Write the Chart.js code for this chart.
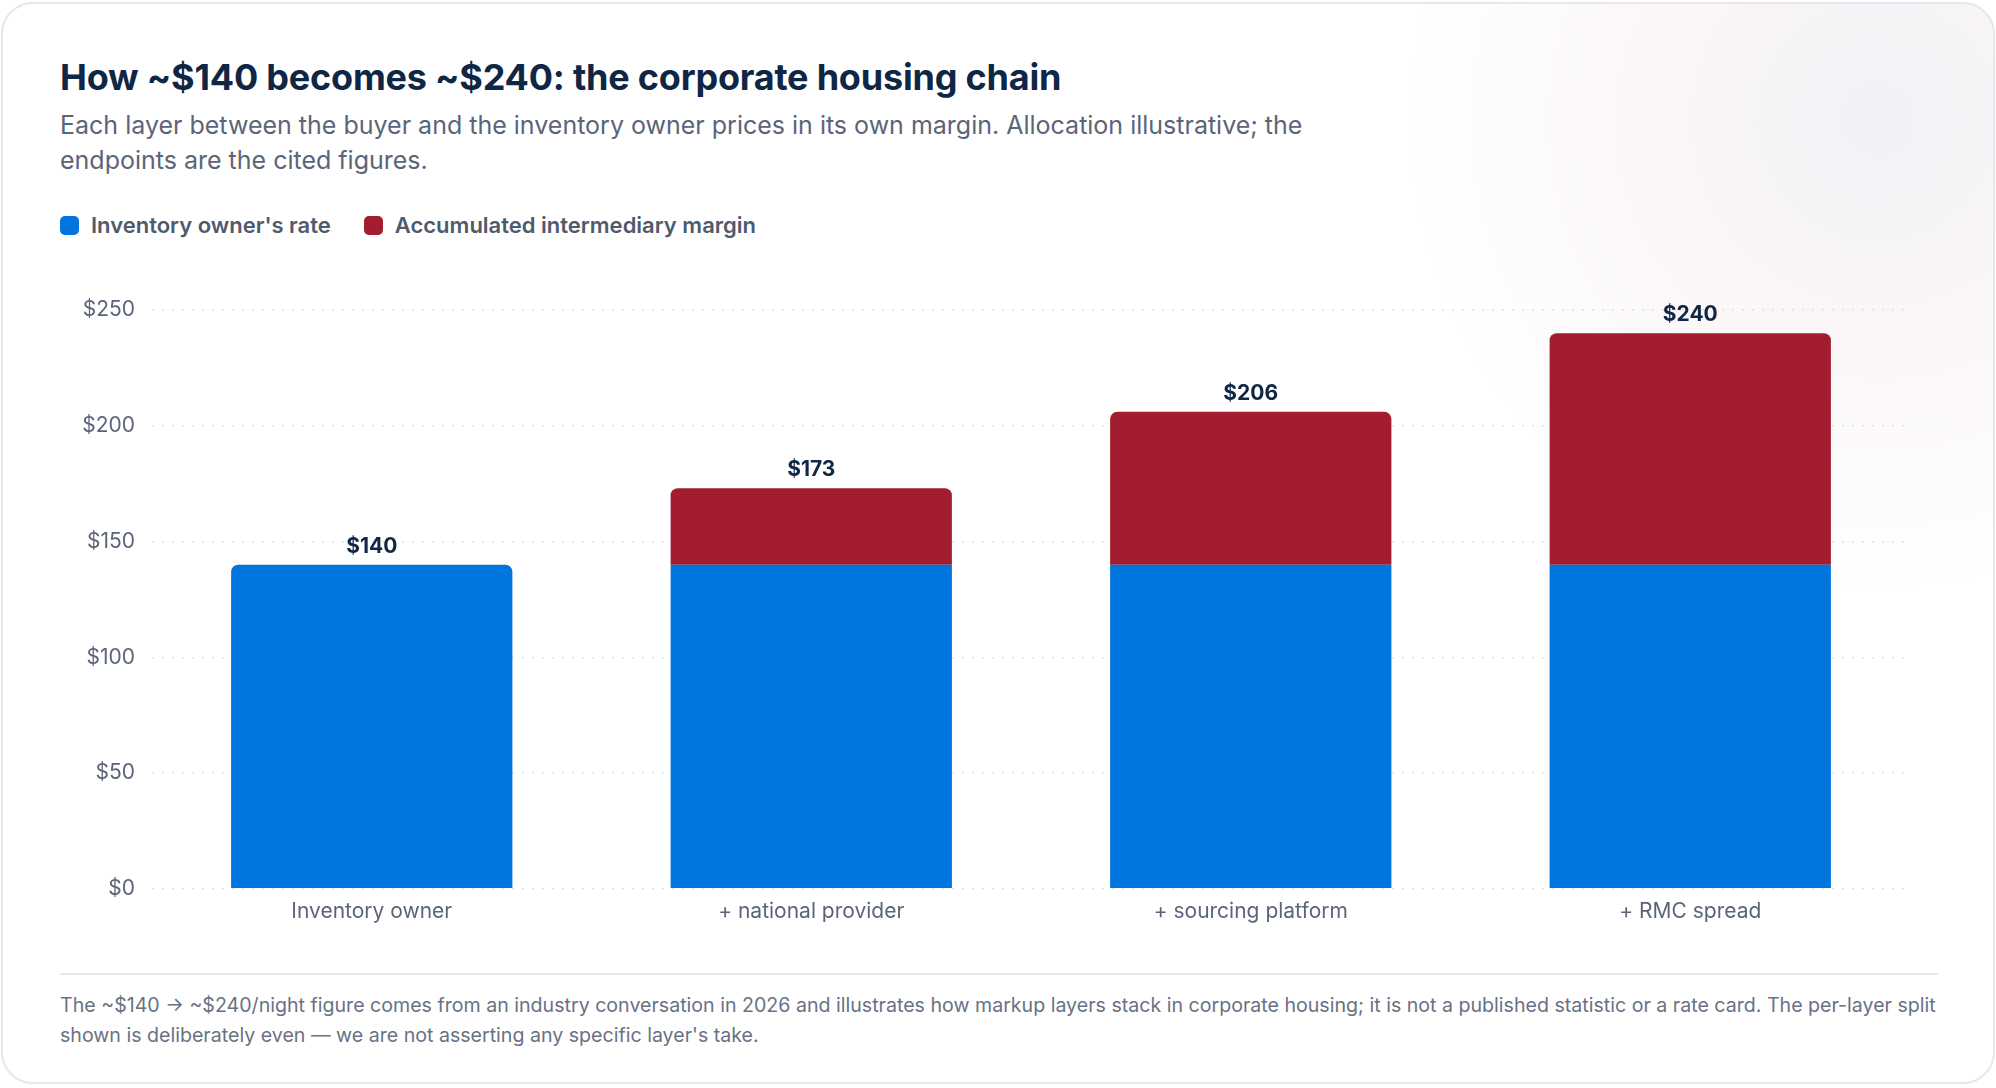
<!DOCTYPE html>
<html>
<head>
<meta charset="utf-8">
<script src="https://cdn.jsdelivr.net/npm/chart.js@4.4.1/dist/chart.umd.min.js"></script>
<style>
  html, body { margin: 0; padding: 0; background: #fff; }
  body { width: 1996px; height: 1088px; position: relative; overflow: hidden; font-family: Inter, "Noto Sans", sans-serif; }
  .card {
    position: absolute; left: 1px; top: 2px; width: 1990px; height: 1078px;
    border: 2px solid #e4e8ee; border-radius: 32px; overflow: hidden;
    background:
      radial-gradient(circle 480px at 1875px 115px, rgba(70,70,130,0.075) 0%, rgba(162,29,48,0.04) 45%, rgba(255,255,255,0) 100%),
      #fff;
  }
  .title { position: absolute; left: 57px; top: 55px; margin: 0; font-size: 36px; line-height: 36px; font-weight: 700; color: #0f2744; letter-spacing: -0.2px; }
  .sub { position: absolute; left: 57px; top: 104px; width: 1330px; margin: 0; font-size: 25px; line-height: 35px; color: #5b6579; }
  .legend { position: absolute; left: 57px; top: 210px; display: flex; align-items: center; font-size: 22px; line-height: 22px; font-weight: 600; color: #4f5a6d; }
  .legend span.sw { display: inline-block; width: 19px; height: 19px; border-radius: 5px; margin-right: 12px; }
  .legend .item { display: flex; align-items: center; margin-right: 33px; }
  .chart { position: absolute; left: 56px; top: 256px; width: 1878px; height: 674px; }
  .rule { position: absolute; left: 57px; top: 969px; width: 1878px; height: 2px; background: #e4e8ee; }
  .note { position: absolute; left: 57px; top: 986px; width: 1890px; margin: 0; font-size: 19.6px; line-height: 30px; color: #687284; }
</style>
</head>
<body>
<div class="card">
  <h1 class="title">How ~$140 becomes ~$240: the corporate housing chain</h1>
  <p class="sub">Each layer between the buyer and the inventory owner prices in its own margin. Allocation illustrative; the endpoints are the cited figures.</p>
  <div class="legend">
    <div class="item"><span class="sw" style="background:#0075de"></span>Inventory owner's rate</div>
    <div class="item"><span class="sw" style="background:#a31d31"></span>Accumulated intermediary margin</div>
  </div>
  <div class="chart"><canvas id="chain"></canvas></div>
  <div class="rule"></div>
  <p class="note">The ~$140 → ~$240/night figure comes from an industry conversation in 2026 and illustrates how markup layers stack in corporate housing; it is not a published statistic or a rate card. The per-layer split shown is deliberately even — we are not asserting any specific layer's take.</p>
</div>
<script>
(function () {
  const categories = ['Inventory owner', '+ national provider', '+ sourcing platform', '+ RMC spread'];
  const ownerRate = [140, 140, 140, 140];
  const margin = [0, 33, 66, 100];
  const yTicks = [0, 50, 100, 150, 200, 250];

  Chart.defaults.font.family = 'Inter, "Noto Sans", sans-serif';
  Chart.defaults.color = '#5b6579';

  // total on top of each stack
  const totalLabels = {
    id: 'totalLabels',
    afterDatasetsDraw(chart) {
      const c = chart.ctx;
      const y = chart.scales.y;
      const x = chart.scales.x;
      c.save();
      c.font = '700 21px Inter, sans-serif';
      c.fillStyle = '#0f2744';
      c.textAlign = 'center';
      c.textBaseline = 'alphabetic';
      categories.forEach((cat, i) => {
        const total = ownerRate[i] + margin[i];
        c.fillText('$' + total, x.getPixelForValue(i), y.getPixelForValue(total) - 12);
      });
      c.restore();
    }
  };

  const ctx = document.getElementById('chain');
  new Chart(ctx, {
    type: 'bar',
    data: {
      labels: categories,
      datasets: [{
        label: "Inventory owner's rate",
        data: ownerRate,
        backgroundColor: '#0075de',
        borderRadius: 7
      }, {
        label: 'Accumulated intermediary margin',
        data: margin,
        backgroundColor: '#a31d31',
        borderRadius: 7
      }]
    },
    options: {
      responsive: true,
      maintainAspectRatio: false,
      animation: false,
      categoryPercentage: 0.8,
      barPercentage: 0.8,
      layout: { padding: { top: 50, right: 27, bottom: 0, left: 0 } },
      plugins: {
        legend: { display: false },
        tooltip: { enabled: false }
      },
      scales: {
        x: {
          stacked: true,
          grid: { display: false, drawTicks: false },
          border: { display: false },
          ticks: { padding: 10, font: { size: 21 }, color: '#5b6579' }
        },
        y: {
          stacked: true,
          min: yTicks[0],
          max: yTicks[yTicks.length - 1],
          afterFit(scale) { scale.width = 93; },
          afterBuildTicks(scale) { scale.ticks = yTicks.map(v => ({ value: v })); },
          grid: { color: '#dfe3e9', lineWidth: 1.5, drawTicks: false },
          border: { display: false, dash: [2, 8] },
          ticks: {
            padding: 17,
            font: { size: 21 },
            color: '#5b6579',
            callback: v => '$' + v
          }
        }
      }
    },
    plugins: [totalLabels]
  });
})();
</script>
</body>
</html>
